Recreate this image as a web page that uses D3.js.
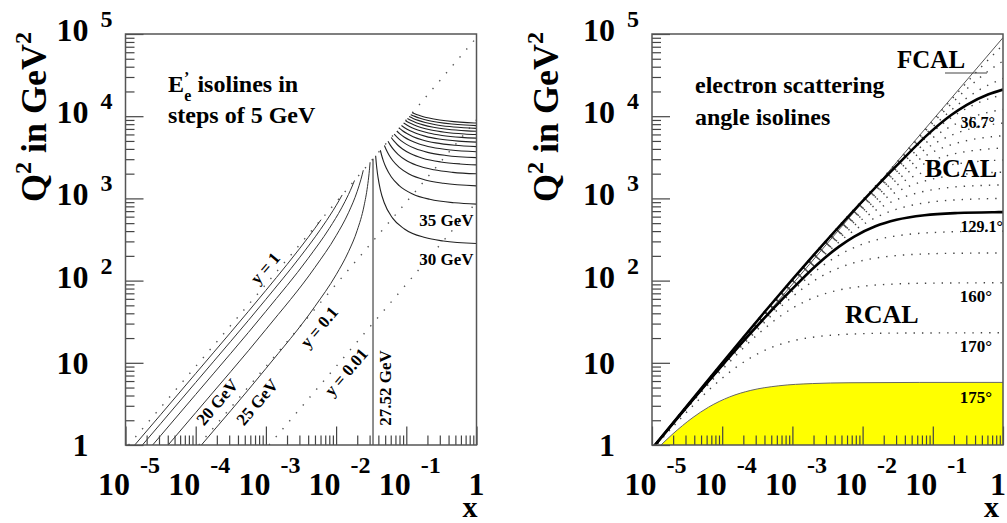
<!DOCTYPE html>
<html>
<head>
<meta charset="utf-8">
<script src="https://cdn.jsdelivr.net/npm/d3@7"></script>
<style>
  body { margin: 0; background: #fff; }
  svg { display: block; }
  text { font-family: "Liberation Serif", "Times New Roman", serif; font-weight: bold; fill: #000; }
</style>
</head>
<body>
<div id="chart"></div>
<script>
// ---- axis values -------------------------------------------------------
const xTickVals = [1e-5, 1e-4, 1e-3, 1e-2, 1e-1, 1];
const xTickBase = ["10", "10", "10", "10", "10", "1"];
const xTickExp = ["-5", "-4", "-3", "-2", "-1", ""];
const yTickVals = [1, 10, 100, 1e3, 1e4, 1e5];
const yTickBase = ["1", "10", "10", "10", "10", "10"];
const yTickExp = ["", "", "2", "3", "4", "5"];

// ---- left panel: kinematic y lines (dotted), [x, Q2] end points ---------
const yLineNames = ["y = 1", "y = 0.1", "y = 0.01"];
const yLinePts = [
  [[1.108e-5, 1], [1, 90266]],
  [[1.108e-4, 1], [1, 9027]],
  [[1.108e-3, 1], [1, 902.7]]
];

// E'e = 27.52 GeV (beam energy) vertical line
const eBeamLine = [[0.033561, 0.8], [0.033561, 3029]];

// E'e isolines below the beam energy, [x, Q2]
const eLowEnergies = [5, 10, 15, 20, 25];
const eLowPts = [
  [[1e-5,0.739],[1e-4,7.409],[1e-3,76.13],[2e-3,157.1],[3e-3,243.3],[4e-3,335.4],[5e-3,434.0],[6.098e-3,550.4]],
  [[1e-5,0.575],[1e-4,5.764],[1e-3,59.23],[3e-3,189.3],[6e-3,419.9],[9e-3,706.7],[0.011,940.3],[0.012195,1100.8]],
  [[1e-5,0.411],[1e-4,4.119],[1e-3,42.33],[4e-3,186.5],[8e-3,431.3],[0.012,767.1],[0.015,1113.8],[0.017,1414.7],[0.018293,1651.2]],
  [[1e-5,0.247],[1e-4,2.474],[1e-3,25.42],[5e-3,144.9],[0.01,351.3],[0.015,669.0],[0.02,1220.8],[0.0225,1683.9],[0.0235,1933.5],[0.02439,2201.6]],
  [[1e-5,0.0827],[1e-4,0.829],[1e-3,8.519],[5e-3,48.56],[0.01,117.7],[0.015,224.2],[0.02,409.1],[0.025,810.1],[0.028,1396.7],[0.0295,2015],[0.030,2337],[0.030488,2752]]
];

// E'e isolines above the beam energy (30 ... 100 GeV), [x, Q2]
const eHighEnergies = [30, 35, 40, 45, 50, 55, 60, 65, 70, 75, 80, 85, 90, 95, 100];
const eHighPts = [
  [[0.036585,3302.4],[0.037190,2797.5],[0.038098,2292.6],[0.039610,1787.7],[0.042634,1282.8],[0.048683,878.9],[0.063805,575.9],[0.094049,424.5],[0.18478,333.6],[0.33600,303.3],[1,282.5]],
  [[0.042683,3852.8],[0.044507,3347.9],[0.047244,2843.0],[0.051805,2338.1],[0.060927,1833.2],[0.079171,1429.3],[0.12478,1126.3],[0.21600,974.9],[0.48966,884.0],[1,852.0]],
  [[0.048780,4403.2],[0.051825,3898.3],[0.056391,3393.4],[0.064000,2888.5],[0.079220,2383.6],[0.10966,1979.7],[0.18576,1676.7],[0.33796,1525.3],[1,1421.5]],
  [[0.054878,4953.6],[0.059141,4448.7],[0.065537,3943.8],[0.076195,3438.9],[0.097512,2934.0],[0.14015,2530.1],[0.24673,2227.1],[0.45990,2075.7],[1,1991.0]],
  [[0.060976,5504.0],[0.066459,4999.1],[0.074684,4494.2],[0.088391,3989.3],[0.11581,3484.4],[0.17064,3080.5],[0.30771,2777.5],[0.58186,2626.1],[1,2560.5]],
  [[0.067073,6054.4],[0.073776,5549.5],[0.083829,5044.6],[0.10059,4539.7],[0.13410,4034.8],[0.20112,3630.9],[0.36868,3327.9],[1,3130.0]],
  [[0.073171,6604.8],[0.081093,6099.9],[0.092976,5595.0],[0.11278,5090.1],[0.15239,4585.2],[0.23161,4181.3],[0.42966,3878.3],[1,3699.6]],
  [[0.079268,7155.2],[0.088410,6650.3],[0.10212,6145.4],[0.12497,5640.5],[0.17068,5135.6],[0.26210,4731.7],[0.49063,4428.7],[1,4269.1]],
  [[0.085366,7705.6],[0.095727,7200.7],[0.11127,6695.8],[0.13717,6190.9],[0.18898,5686.0],[0.29259,5282.1],[0.55161,4979.1],[1,4838.6]],
  [[0.091463,8256.0],[0.10304,7751.1],[0.12042,7246.2],[0.14937,6741.3],[0.20727,6236.4],[0.32307,5832.5],[0.61258,5529.5],[1,5408.1]],
  [[0.097561,8806.4],[0.11036,8301.5],[0.12956,7796.6],[0.16156,7291.7],[0.22556,6786.8],[0.35356,6382.9],[0.67356,6079.9],[1,5977.6]],
  [[0.10366,9356.8],[0.11768,8851.9],[0.13871,8347.0],[0.17376,7842.1],[0.24385,7337.2],[0.38405,6933.3],[0.73454,6630.3],[1,6547.1]],
  [[0.10976,9907.2],[0.12500,9402.3],[0.14785,8897.4],[0.18595,8392.5],[0.26215,7887.6],[0.41454,7483.7],[0.79551,7180.7],[1,7116.6]],
  [[0.11585,10457.6],[0.13231,9952.7],[0.15700,9447.8],[0.19815,8942.9],[0.28044,8438.0],[0.44503,8034.1],[0.69191,7806.9],[1,7686.2]],
  [[0.12195,11008],[0.13963,10503],[0.16615,9998.2],[0.21034,9493.3],[0.29873,8988.4],[0.47551,8584.5],[0.74068,8357.3],[1,8255.7]]
];

// ---- right panel: electron scattering angle isolines, [x, Q2] ----------
const kinLimit = [[1.108e-5, 1], [1, 90266]];
const angleDeg = [10, 20, 30, 40, 50, 60, 70, 80, 90, 100, 110, 120, 140, 150, 160, 170];
const anglePts = [
  [[1e-5,0.9027],[0.043846,3918.6],[0.13154,11527],[0.43846,35980],[1,73501]],
  [[1e-5,0.9027],[0.032384,2838.0],[0.10795,8857.9],[0.32384,22485],[0.64767,36539],[1,46856]],
  [[1e-5,0.9026],[0.046744,3835.8],[0.14023,9737.1],[0.28047,15823],[0.46744,21097],[1,28753]],
  [[1e-5,0.9026],[0.025334,2078.9],[0.076003,5277.2],[0.15201,8575.5],[0.25334,11434],[0.50669,15245],[1,18246]],
  [[1e-5,0.9026],[0.015435,1266.5],[0.046304,3215.1],[0.092608,5224.5],[0.15435,6966.0],[0.30869,9288.0],[0.61739,11146],[1,12069]],
  [[1e-5,0.9026],[0.010068,826.20],[0.030205,2097.3],[0.060410,3408.1],[0.10068,4544.1],[0.20137,6058.8],[0.40273,7270.6],[1,8256.9]],
  [[1e-5,0.9025],[0.0068452,561.71],[0.020536,1425.9],[0.041071,2317.1],[0.068452,3089.4],[0.13690,4119.2],[0.27381,4943.0],[0.68452,5617.1],[1,5783.0]],
  [[1e-5,0.9025],[0.0047666,391.15],[0.014300,992.91],[0.028600,1613.5],[0.047666,2151.3],[0.095332,2868.4],[0.19066,3442.1],[0.47666,3911.5],[1,4106.9]],
  [[1e-5,0.9024],[0.0033561,275.40],[0.010068,699.09],[0.020137,1136.0],[0.033561,1514.7],[0.067122,2019.6],[0.13424,2423.5],[0.33561,2754.0],[1,2931.0]],
  [[1e-5,0.9023],[0.0023631,193.91],[0.0070892,492.23],[0.014178,799.88],[0.023631,1066.5],[0.047261,1422.0],[0.094523,1706.4],[0.23631,1939.1],[0.47261,2031.4],[1,2083.8]],
  [[1e-5,0.9021],[0.0016455,135.03],[0.0049364,342.76],[0.0098728,556.99],[0.016455,742.65],[0.032910,990.20],[0.065819,1188.2],[0.16455,1350.3],[0.49364,1437.4],[1,1461.3]],
  [[1e-5,0.9019],[0.0011187,91.800],[0.0033561,233.03],[0.0067122,378.68],[0.011187,504.90],[0.022374,673.20],[0.044748,807.84],[0.11187,918.0],[0.33561,977.23],[1,998.63]],
  [[1e-5,0.9006],[4.4459e-4,36.483],[1.3338e-3,92.610],[2.6675e-3,150.49],[4.4459e-3,200.66],[8.8918e-3,267.54],[0.017784,321.05],[0.044459,364.83],[0.13338,388.36],[0.44459,397.34],[1,399.53]],
  [[1e-5,0.8989],[2.40955e-4,19.773],[7.2287e-4,50.192],[1.4457e-3,81.563],[2.40955e-3,108.75],[4.8191e-3,145.00],[9.6382e-3,174.00],[0.024096,197.73],[0.072287,210.48],[0.24096,215.35],[1,216.98]],
  [[1e-5,0.8941],[1.04346e-4,8.5625],[3.1304e-4,21.736],[6.2608e-4,35.321],[1.04346e-3,47.094],[2.0869e-3,62.792],[4.1738e-3,75.350],[0.010435,85.625],[0.031304,91.150],[0.10435,93.255],[1,94.090]],
  [[1e-5,0.8688],[2.5689e-5,2.1080],[7.7067e-5,5.3511],[1.5413e-4,8.6955],[2.5689e-4,11.594],[5.1378e-4,15.459],[1.0276e-3,18.550],[2.5689e-3,21.080],[7.7067e-3,22.440],[0.025689,22.958],[1,23.182]]
];
// calorimeter boundaries (thick lines)
const boundaryDeg = [36.7, 129.1];
const boundaryPts = [
  [[1e-5,0.9026],[0.030509,2503.5],[0.091527,6355.2],[0.18305,10327],[0.30509,13770],[0.61018,18359],[1,21101]],
  [[1e-5,0.9015],[7.6012e-4,62.375],[2.2804e-3,158.34],[4.5607e-3,257.30],[7.6012e-3,343.06],[0.015202,457.41],[0.030405,548.90],[0.076012,623.75],[0.22804,663.99],[0.76012,679.33],[1,680.94]]
];
// 175 degree isoline, area below it is filled
const beamHolePts = [[1e-5,0.7807],[1.9193e-5,1.3327],[3.8386e-5,2.1656],[6.3977e-5,2.8875],[1.2795e-4,3.8499],[2.5591e-4,4.6199],[6.3977e-4,5.2499],[1.9193e-3,5.5886],[6.3977e-3,5.7177],[0.063977,5.7691],[1,5.7745]];

// ---- layout ------------------------------------------------------------
const W = 1007, H = 523;
const panelW = 351, panelH = 411, panelTop = 34;

const svg = d3.select("#chart").append("svg")
  .attr("width", W)
  .attr("height", H);

function makePanel(left, id, titleX, lastLabelShift) {
  const g = svg.append("g").attr("transform", `translate(${left},${panelTop})`);
  const x = d3.scaleLog().domain([1e-5, 1]).range([0, panelW]);
  const y = d3.scaleLog().domain([1, 1e5]).range([panelH, 0]);

  g.append("clipPath").attr("id", id)
    .append("rect").attr("width", panelW).attr("height", panelH);
  const plot = g.append("g").attr("clip-path", `url(#${id})`);
  const over = g.append("g");

  const isMajor = v => Math.abs(Math.log10(v) - Math.round(Math.log10(v))) < 1e-6;

  // ticks drawn inside the frame
  const tickStyle = a => {
    a.select(".domain").remove();
    a.selectAll("line").attr("stroke", "#444").attr("stroke-width", 1.2);
  };
  over.append("g").attr("transform", `translate(0,${panelH})`)
    .call(d3.axisTop(x).tickValues(x.ticks().filter(v => !isMajor(v))).tickSize(9.5).tickFormat(""))
    .call(tickStyle);
  over.append("g").attr("transform", `translate(0,${panelH})`)
    .call(d3.axisTop(x).tickValues(xTickVals).tickSize(18.5).tickFormat(""))
    .call(tickStyle);
  over.append("g")
    .call(d3.axisRight(y).tickValues(y.ticks().filter(v => !isMajor(v))).tickSize(9).tickFormat(""))
    .call(tickStyle);
  over.append("g")
    .call(d3.axisRight(y).tickValues(yTickVals).tickSize(18).tickFormat(""))
    .call(tickStyle);

  // frame
  over.append("rect")
    .attr("width", panelW).attr("height", panelH)
    .attr("fill", "none").attr("stroke", "#555").attr("stroke-width", 1.5);

  // x tick labels
  xTickVals.forEach((v, i) => {
    if (xTickExp[i]) {
      over.append("text").attr("x", x(v) + 4.5).attr("y", panelH + 50)
        .attr("text-anchor", "end").attr("font-size", 32).text(xTickBase[i]);
      over.append("text").attr("x", x(v) + 14.5).attr("y", panelH + 28)
        .attr("font-size", 24).text(xTickExp[i]);
    } else {
      over.append("text").attr("x", x(v) - lastLabelShift).attr("y", panelH + 50)
        .attr("text-anchor", "middle").attr("font-size", 32).text(xTickBase[i]);
    }
  });
  // y tick labels
  yTickVals.forEach((v, i) => {
    if (yTickExp[i]) {
      over.append("text").attr("x", -37).attr("y", y(v) + 7)
        .attr("text-anchor", "end").attr("font-size", 32).text(yTickBase[i]);
      over.append("text").attr("x", -25).attr("y", y(v) - 7)
        .attr("font-size", 24).text(yTickExp[i]);
    } else {
      over.append("text").attr("x", -37).attr("y", y(v) + 11)
        .attr("text-anchor", "end").attr("font-size", 32).text(yTickBase[i]);
    }
  });

  // axis titles
  const yt = over.append("text")
    .attr("transform", `translate(${titleX},-2) rotate(-90)`)
    .attr("text-anchor", "end").attr("font-size", 36);
  yt.append("tspan").text("Q");
  yt.append("tspan").attr("font-size", 24).attr("dy", -15).text("2");
  yt.append("tspan").attr("dy", 15).text(" in GeV");
  yt.append("tspan").attr("font-size", 24).attr("dy", -15).text("2");

  over.append("text").attr("x", panelW + 1 - lastLabelShift).attr("y", 483)
    .attr("text-anchor", "end").attr("font-size", 30).text("x");

  return { g, plot, over, x, y };
}

const L = makePanel(125.5, "clipL", -79.5, 0);
const R = makePanel(652, "clipR", -94, 5);

const lineGen = p => d3.line()
  .x(d => p.x(d[0]))
  .y(d => p.y(d[1]))
  .curve(d3.curveMonotoneX);

// ---- left panel marks --------------------------------------------------
L.plot.selectAll("path.ylin")
  .data(yLinePts)
  .join("path")
  .attr("class", "ylin")
  .attr("d", lineGen(L))
  .attr("fill", "none")
  .attr("stroke", "#555")
  .attr("stroke-width", 1.4)
  .attr("stroke-dasharray", "1.4,9");

L.plot.selectAll("path.elow")
  .data(eLowPts)
  .join("path")
  .attr("class", "elow")
  .attr("d", lineGen(L))
  .attr("fill", "none")
  .attr("stroke", "#333")
  .attr("stroke-width", 1);

L.plot.selectAll("path.ehigh")
  .data(eHighPts)
  .join("path")
  .attr("class", "ehigh")
  .attr("d", lineGen(L))
  .attr("fill", "none")
  .attr("stroke", "#222")
  .attr("stroke-width", 1.1);

L.plot.append("line")
  .attr("x1", L.x(eBeamLine[0][0])).attr("y1", L.y(eBeamLine[0][1]))
  .attr("x2", L.x(eBeamLine[1][0])).attr("y2", L.y(eBeamLine[1][1]))
  .attr("stroke", "#333").attr("stroke-width", 1.1);

// left panel labels
const lt = L.over.append("text").attr("x", 42.5).attr("y", 58).attr("font-size", 24);
lt.append("tspan").text("E");
lt.append("tspan").attr("font-size", 16).attr("dy", -9).text("’");
lt.append("tspan").attr("font-size", 16).attr("dx", -5).attr("dy", 18).text("e");
lt.append("tspan").attr("dy", -9).text(" isolines in");
L.over.append("text").attr("x", 42.5).attr("y", 89).attr("font-size", 24).text("steps of 5 GeV");

const rotLabel = (p, txt, cx, cy, ang, size) =>
  p.over.append("text")
    .attr("transform", `translate(${cx},${cy}) rotate(${ang})`)
    .attr("text-anchor", "middle").attr("dy", "0.35em")
    .attr("font-size", size).text(txt);

rotLabel(L, yLineNames[0], 139.5, 234, -49.5, 17);
rotLabel(L, yLineNames[1], 193.5, 293, -49.5, 17);
rotLabel(L, yLineNames[2], 220.5, 338, -49.5, 17);
rotLabel(L, eLowEnergies[3] + " GeV", 91.5, 368, -49.5, 17);
rotLabel(L, eLowEnergies[4] + " GeV", 131.5, 368, -49.5, 17);
rotLabel(L, "27.52 GeV", 259.5, 354, -90, 17);
L.over.append("text").attr("x", 348).attr("y", 192).attr("text-anchor", "end")
  .attr("font-size", 17).text(eHighEnergies[1] + " GeV");
L.over.append("text").attr("x", 348).attr("y", 231).attr("text-anchor", "end")
  .attr("font-size", 17).text(eHighEnergies[0] + " GeV");

// ---- right panel marks -------------------------------------------------
R.plot.append("path")
  .datum(beamHolePts)
  .attr("d", d3.area()
    .x(d => R.x(d[0]))
    .y0(R.y(1) + 5)
    .y1(d => R.y(d[1]))
    .curve(d3.curveMonotoneX))
  .attr("fill", "#ffff00");
R.plot.append("path")
  .datum(beamHolePts)
  .attr("d", lineGen(R))
  .attr("fill", "none").attr("stroke", "#666").attr("stroke-width", 1);

R.plot.selectAll("path.ang")
  .data(anglePts)
  .join("path")
  .attr("class", "ang")
  .attr("d", lineGen(R))
  .attr("fill", "none")
  .attr("stroke", "#444")
  .attr("stroke-width", 1.4)
  .attr("stroke-dasharray", "1.4,7");

R.plot.append("path")
  .datum(kinLimit)
  .attr("d", lineGen(R))
  .attr("fill", "none").attr("stroke", "#555").attr("stroke-width", 1);

R.plot.selectAll("path.bnd")
  .data(boundaryPts)
  .join("path")
  .attr("class", "bnd")
  .attr("d", lineGen(R))
  .attr("fill", "none")
  .attr("stroke", "#000")
  .attr("stroke-width", 2.6);

// right panel labels
R.over.append("text").attr("x", 43).attr("y", 59).attr("font-size", 24).text("electron scattering");
R.over.append("text").attr("x", 43).attr("y", 91).attr("font-size", 24).text("angle isolines");
R.over.append("text").attr("x", 245).attr("y", 34).attr("font-size", 25).text("FCAL");
R.over.append("line").attr("x1", 293).attr("x2", 335).attr("y1", 39).attr("y2", 39)
  .attr("stroke", "#444").attr("stroke-width", 1.2);
R.over.append("text").attr("x", 345).attr("y", 143).attr("text-anchor", "end").attr("font-size", 26).text("BCAL");
R.over.append("text").attr("x", 193).attr("y", 289).attr("font-size", 26).text("RCAL");
R.over.append("text").attr("x", 343).attr("y", 94).attr("text-anchor", "end").attr("font-size", 16).text(boundaryDeg[0] + "°");
R.over.append("text").attr("x", 351).attr("y", 198).attr("text-anchor", "end").attr("font-size", 16).text(boundaryDeg[1] + "°");
[[160, 268], [170, 318], [175, 369]].forEach(([a, yy]) => {
  R.over.append("text").attr("x", 340).attr("y", yy).attr("text-anchor", "end")
    .attr("font-size", 17).attr("font-weight", "normal").text(a + "°");
});
</script>
</body>
</html>
